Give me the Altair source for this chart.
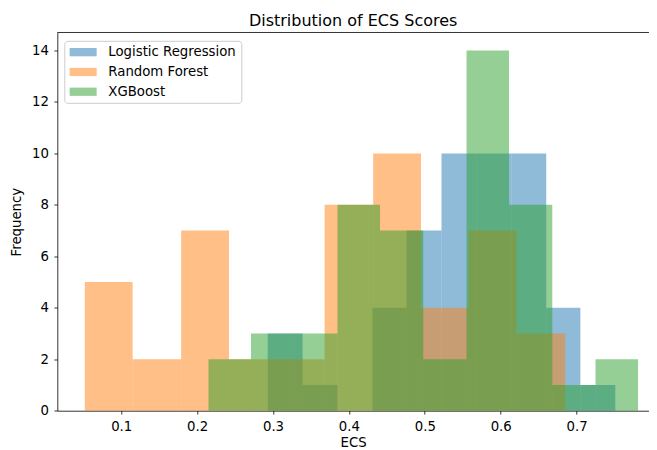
import altair as alt
import pandas as pd

series_names = ["Logistic Regression", "Random Forest", "XGBoost"]
series_colors = ["#1f77b4", "#ff7f0e", "#2ca02c"]

lr_edges = [0.293, 0.339, 0.385, 0.431, 0.476, 0.522, 0.568, 0.614, 0.660, 0.705, 0.751]
lr_counts = [3, 1, 0, 4, 7, 10, 10, 10, 4, 1]

rf_edges = [0.052, 0.115, 0.179, 0.242, 0.305, 0.368, 0.432, 0.495, 0.558, 0.621, 0.685]
rf_counts = [5, 2, 7, 2, 2, 8, 10, 4, 7, 3]

xgb_edges = [0.215, 0.271, 0.328, 0.385, 0.441, 0.498, 0.555, 0.611, 0.668, 0.725, 0.781]
xgb_counts = [2, 3, 3, 8, 7, 2, 14, 8, 1, 2]

x_ticks = [0.1, 0.2, 0.3, 0.4, 0.5, 0.6, 0.7, 0.8]
y_ticks = [0, 2, 4, 6, 8, 10, 12, 14]

rows = []
for name, edges, counts in zip(series_names,
                               [lr_edges, rf_edges, xgb_edges],
                               [lr_counts, rf_counts, xgb_counts]):
    for i, c in enumerate(counts):
        rows.append({"model": name, "x0": edges[i], "x1": edges[i + 1], "count": c, "order": len(rows)})
df = pd.DataFrame(rows)

FONT = "DejaVu Sans"
FS = 13.3
W = 591.7
H = 378.2

legend = alt.Legend(
    orient="none", legendX=7, legendY=8.3, title=None,
    symbolType="M-1,-0.69L3.5,-0.69L3.5,0.69L-1,0.69Z", symbolSize=144,
    symbolOpacity=0.5, symbolStrokeWidth=0,
    labelFont=FONT, labelFontSize=FS, labelColor="black",
    padding=4.7, fillColor="rgba(255,255,255,0.8)", strokeColor="#cccccc",
    cornerRadius=3, rowPadding=5.8, labelOffset=26,
)

bars = alt.Chart(df).mark_rect(opacity=0.5, strokeWidth=0).encode(
    x=alt.X("x0:Q", scale=alt.Scale(domain=[0.0158, 0.7954], nice=False, zero=False),
            axis=alt.Axis(title="ECS", values=x_ticks, format=".1f", grid=False,
                          labelFont=FONT, labelFontSize=FS, labelColor="black",
                          titleFont=FONT, titleFontSize=FS, titleFontWeight="normal", titleColor="black",
                          domainColor="black", domainWidth=0.8, tickColor="black", tickWidth=0.8,
                          tickSize=3.4, labelPadding=5, titlePadding=3, labelFlush=False)),
    x2="x1:Q",
    y=alt.Y("count:Q", scale=alt.Scale(domain=[0, 14.7], nice=False),
            axis=alt.Axis(title="Frequency", values=y_ticks, grid=False,
                          labelFont=FONT, labelFontSize=FS, labelColor="black",
                          titleFont=FONT, titleFontSize=FS, titleFontWeight="normal", titleColor="black",
                          domainColor="black", domainWidth=0.8, tickColor="black", tickWidth=0.8,
                          tickSize=3.4, labelPadding=5.5, titlePadding=8, labelFlush=False)),
    y2=alt.datum(0),
    color=alt.Color("model:N", scale=alt.Scale(domain=series_names, range=series_colors), legend=legend),
    order=alt.Order("order:Q"),
)

top_spine = alt.Chart(pd.DataFrame({"a": [0]})).mark_rule(color="black", strokeWidth=0.8).encode(
    x=alt.value(0), x2=alt.value(W), y=alt.value(0)
)

chart = alt.layer(bars, top_spine).properties(
    width=W, height=H,
    title=alt.Title("Distribution of ECS Scores", font=FONT, fontSize=16, fontWeight="normal",
                    color="black", anchor="middle", frame="group", offset=3),
    autosize=alt.AutoSizeParams(type="none"),
    padding={"left": 49.3, "top": 24.5, "right": 0, "bottom": 44},
).configure_view(stroke=None)

chart.save("out.html", embed_options={"renderer": "svg", "actions": False})
